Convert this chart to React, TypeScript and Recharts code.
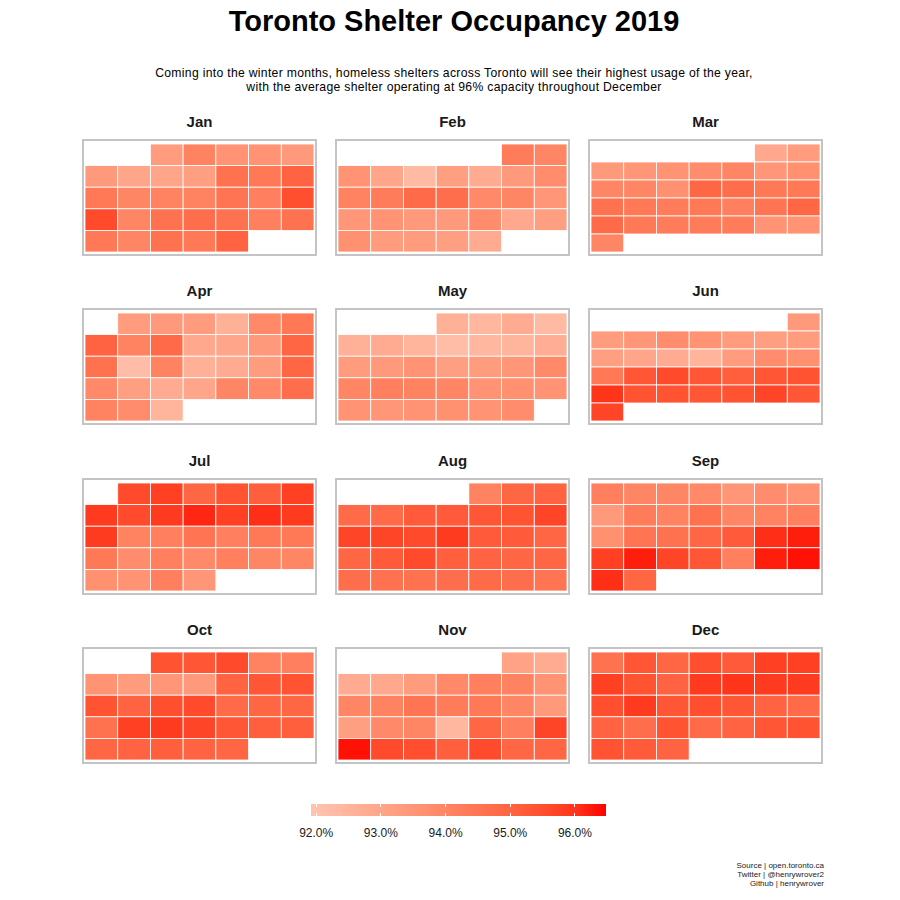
import { ScatterChart, Scatter, XAxis, YAxis } from 'recharts'

const YEAR = 2019
const months = ['Jan', 'Feb', 'Mar', 'Apr', 'May', 'Jun', 'Jul', 'Aug', 'Sep', 'Oct', 'Nov', 'Dec']

// daily average occupancy (%)
const jan = [93.3, 94.1, 93.6, 93.6, 93.4,
  93.4, 93.0, 93.0, 93.2, 94.6, 94.4, 95.0,
  94.4, 94.0, 94.1, 94.1, 94.5, 94.2, 95.5,
  95.6, 94.0, 94.6, 94.7, 94.6, 94.2, 94.6,
  94.4, 94.0, 94.6, 94.4, 95.0]
const feb = [94.3, 94.0,
  93.6, 93.0, 92.3, 93.2, 92.8, 93.4, 93.8,
  94.1, 94.3, 94.8, 94.7, 93.9, 94.0, 93.5,
  93.5, 93.6, 93.4, 93.4, 93.8, 92.9, 93.2,
  93.7, 93.3, 93.3, 93.2, 92.8]
const mar = [92.9, 93.3,
  93.4, 93.5, 93.6, 93.8, 94.0, 93.5, 93.7,
  94.0, 94.0, 93.7, 94.9, 94.7, 94.4, 94.4,
  94.6, 94.4, 94.3, 94.4, 94.2, 94.5, 94.9,
  94.8, 94.4, 94.3, 94.3, 94.3, 93.6, 93.6,
  94.0]
const apr = [93.3, 93.4, 93.3, 92.6, 93.9, 94.4,
  95.0, 94.1, 94.8, 92.9, 93.0, 93.4, 94.9,
  94.6, 92.2, 94.1, 92.6, 92.8, 93.3, 94.9,
  93.9, 93.2, 92.8, 93.0, 94.0, 93.9, 94.7,
  94.1, 93.8, 92.5]
const may = [92.6, 92.4, 92.8, 92.3,
  92.6, 92.8, 92.5, 92.2, 92.4, 92.5, 92.7,
  93.3, 93.4, 93.6, 93.2, 93.3, 93.5, 93.9,
  94.0, 94.2, 94.1, 94.0, 93.6, 93.7, 93.6,
  93.6, 93.5, 93.6, 93.7, 93.6, 93.8]
const jun = [93.4,
  93.3, 93.5, 93.8, 93.6, 93.3, 93.2, 93.3,
  93.2, 93.0, 92.8, 92.5, 93.3, 93.8, 93.7,
  94.4, 95.3, 95.6, 95.3, 95.1, 95.3, 95.4,
  96.0, 95.4, 95.4, 95.3, 95.4, 95.7, 95.3,
  95.7]
const jul = [95.6, 95.8, 94.9, 95.4, 95.1, 95.8,
  95.9, 95.6, 95.9, 96.2, 95.8, 96.1, 95.9,
  95.9, 94.1, 94.2, 94.5, 94.2, 94.4, 94.4,
  94.4, 93.8, 94.2, 93.9, 94.2, 94.0, 94.0,
  93.7, 93.6, 94.2, 93.5]
const aug = [94.1, 94.9, 95.0,
  94.8, 94.8, 95.2, 95.2, 95.3, 95.4, 95.7,
  95.7, 95.7, 95.6, 95.9, 95.2, 95.2, 94.9,
  94.9, 95.2, 95.6, 95.1, 95.0, 94.9, 94.9,
  94.7, 94.6, 94.6, 94.7, 94.8, 94.7, 94.5]
const sep = [94.2, 94.0, 94.0, 93.9, 93.5, 93.8, 93.6,
  93.4, 94.3, 94.1, 94.6, 94.0, 94.1, 94.2,
  93.7, 94.5, 94.6, 94.9, 95.2, 96.1, 96.3,
  95.8, 96.3, 95.7, 95.3, 94.2, 96.3, 96.4,
  96.1, 94.9]
const oct = [95.4, 95.3, 95.6, 94.1, 94.2,
  93.6, 93.3, 93.5, 93.4, 95.0, 95.3, 95.4,
  95.4, 95.0, 95.5, 95.6, 94.8, 94.9, 94.9,
  94.6, 95.8, 95.9, 95.7, 95.3, 95.1, 95.1,
  94.9, 95.0, 95.1, 95.0, 94.9]
const nov = [93.1, 92.8,
  92.8, 92.9, 93.3, 93.9, 94.2, 94.1, 93.6,
  94.0, 94.1, 94.5, 94.3, 94.4, 94.0, 93.4,
  93.2, 93.9, 94.0, 92.4, 94.9, 94.2, 95.7,
  96.4, 95.6, 95.5, 95.1, 95.6, 94.9, 94.9]
const dec = [94.6, 95.3, 94.9, 95.5, 95.2, 95.8, 95.8,
  95.8, 95.4, 95.0, 95.9, 96.0, 95.9, 95.9,
  95.5, 95.9, 95.3, 95.5, 95.3, 95.0, 94.8,
  95.0, 94.7, 95.4, 94.8, 95.0, 95.3, 95.4,
  95.4, 95.2, 95.0]

const occupancy = [jan, feb, mar, apr, may, jun, jul, aug, sep, oct, nov, dec]
const legendTicks = [92, 93, 94, 95, 96]
const SCALE_MIN = 91.92
const SCALE_MAX = 96.48
const LOW = '#fdc5b2'
const HIGH = '#ff0000'

const FONT = '"Liberation Sans", Arial, sans-serif'

// colour ramp in CIELAB like ggplot's scale_fill_gradient
function toLin(c: number) {
  c /= 255
  return c <= 0.04045 ? c / 12.92 : Math.pow((c + 0.055) / 1.055, 2.4)
}
function fromLin(c: number) {
  const v = c <= 0.0031308 ? 12.92 * c : 1.055 * Math.pow(c, 1 / 2.4) - 0.055
  return Math.max(0, Math.min(255, Math.round(v * 255)))
}
function hexToLab(hex: string) {
  const r = toLin(parseInt(hex.slice(1, 3), 16))
  const g = toLin(parseInt(hex.slice(3, 5), 16))
  const b = toLin(parseInt(hex.slice(5, 7), 16))
  const x = (r * 0.4124 + g * 0.3576 + b * 0.1805) / 0.95047
  const y = r * 0.2126 + g * 0.7152 + b * 0.0722
  const z = (r * 0.0193 + g * 0.1192 + b * 0.9505) / 1.08883
  const f = (t: number) => (t > 0.008856 ? Math.cbrt(t) : 7.787 * t + 16 / 116)
  return [116 * f(y) - 16, 500 * (f(x) - f(y)), 200 * (f(y) - f(z))]
}
function labToRgb([L, a, bb]: number[]) {
  const fy = (L + 16) / 116
  const fx = fy + a / 500
  const fz = fy - bb / 200
  const inv = (t: number) => (t ** 3 > 0.008856 ? t ** 3 : (t - 16 / 116) / 7.787)
  const x = inv(fx) * 0.95047
  const y = inv(fy)
  const z = inv(fz) * 1.08883
  const r = x * 3.2406 + y * -1.5372 + z * -0.4986
  const g = x * -0.9689 + y * 1.8758 + z * 0.0415
  const b = x * 0.0557 + y * -0.204 + z * 1.057
  return `rgb(${fromLin(r)},${fromLin(g)},${fromLin(b)})`
}
const labLow = hexToLab(LOW)
const labHigh = hexToLab(HIGH)
function fillFor(v: number) {
  const t = Math.max(0, Math.min(1, (v - SCALE_MIN) / (SCALE_MAX - SCALE_MIN)))
  return labToRgb(labLow.map((l, i) => l + (labHigh[i] - l) * t))
}

const PANEL_W = 235
const PANEL_H = 117
const PLOT_W = 229
const PLOT_H = 108

function MonthPanel({ m }: { m: number }) {
  const first = new Date(YEAR, m, 1).getDay()
  const days = occupancy[m].map((value, i) => ({
    day: i + 1,
    col: (first + i) % 7,
    row: Math.floor((first + i) / 7),
    value,
  }))
  const weeks = days[days.length - 1].row + 1
  const cw = PLOT_W / 7
  const ch = PLOT_H / weeks
  const left = 82 + (m % 3) * 253
  const top = 139 + Math.floor(m / 3) * 169.3

  return (
    <>
      <div style={{ position: 'absolute', left, top: top - 26, width: PANEL_W, textAlign: 'center', fontWeight: 'bold', fontSize: 15, color: '#1a1a1a' }}>
        {months[m]}
      </div>
      <div style={{ position: 'absolute', left, top, width: PANEL_W, height: PANEL_H, border: '2px solid #c4c4c4', boxSizing: 'border-box' }}>
        <ScatterChart width={PANEL_W - 4} height={PANEL_H - 4} margin={{ top: 3, right: 1, bottom: 2, left: 1 }}>
          <XAxis type="number" dataKey="col" domain={[-0.5, 6.5]} allowDataOverflow hide />
          <YAxis type="number" dataKey="row" domain={[-0.5, weeks - 0.5]} allowDataOverflow reversed hide />
          <Scatter
            data={days}
            isAnimationActive={false}
            shape={(p: any) => (
              <rect x={p.cx - cw / 2} y={p.cy - ch / 2} width={cw} height={ch} fill={fillFor(p.payload.value)} stroke="#ffffff" strokeWidth={0.8} />
            )}
          />
        </ScatterChart>
      </div>
    </>
  )
}

const LEG_X = 311
const LEG_W = 295

export default function App() {
  const stops = Array.from({ length: 11 }, (_, i) => {
    const v = SCALE_MIN + ((SCALE_MAX - SCALE_MIN) * i) / 10
    return `${fillFor(v)} ${i * 10}%`
  })
  const sub = { position: 'absolute' as const, left: 0, width: 908, textAlign: 'center' as const, fontSize: 12.2, lineHeight: '14px', letterSpacing: 0.3 }
  return (
    <div style={{ position: 'absolute', left: 0, top: 0, width: 900, height: 900, background: '#fff', fontFamily: FONT, color: '#000' }}>
      <div style={{ position: 'absolute', left: 0, top: 5, width: 908, textAlign: 'center', fontSize: 29, fontWeight: 'bold' }}>
        Toronto Shelter Occupancy 2019
      </div>
      <div style={{ ...sub, top: 66 }}>
        Coming into the winter months, homeless shelters across Toronto will see their highest usage of the year,
      </div>
      <div style={{ ...sub, top: 80 }}>
        with the average shelter operating at 96% capacity throughout December
      </div>

      {months.map((_, m) => <MonthPanel key={m} m={m} />)}

      {/* legend */}
      <div style={{ position: 'absolute', left: LEG_X, top: 804, width: LEG_W, height: 12, background: `linear-gradient(to right, ${stops.join(', ')})` }} />
      {legendTicks.map(t => {
        const x = LEG_X + ((t - SCALE_MIN) / (SCALE_MAX - SCALE_MIN)) * LEG_W
        return (
          <div key={t}>
            <div style={{ position: 'absolute', left: x - 0.5, top: 804, width: 1, height: 3, background: '#fff' }} />
            <div style={{ position: 'absolute', left: x - 0.5, top: 813, width: 1, height: 3, background: '#fff' }} />
            <div style={{ position: 'absolute', left: x - 30, top: 826, width: 60, textAlign: 'center', fontSize: 12, color: '#1a1a1a' }}>
              {t.toFixed(1)}%
            </div>
          </div>
        )
      })}

      <div style={{ position: 'absolute', right: 76, top: 861, textAlign: 'right', fontSize: 8, lineHeight: '9px', color: '#222' }}>
        Source | open.toronto.ca<br />
        Twitter | @henrywrover2<br />
        Github | henrywrover
      </div>
    </div>
  )
}
